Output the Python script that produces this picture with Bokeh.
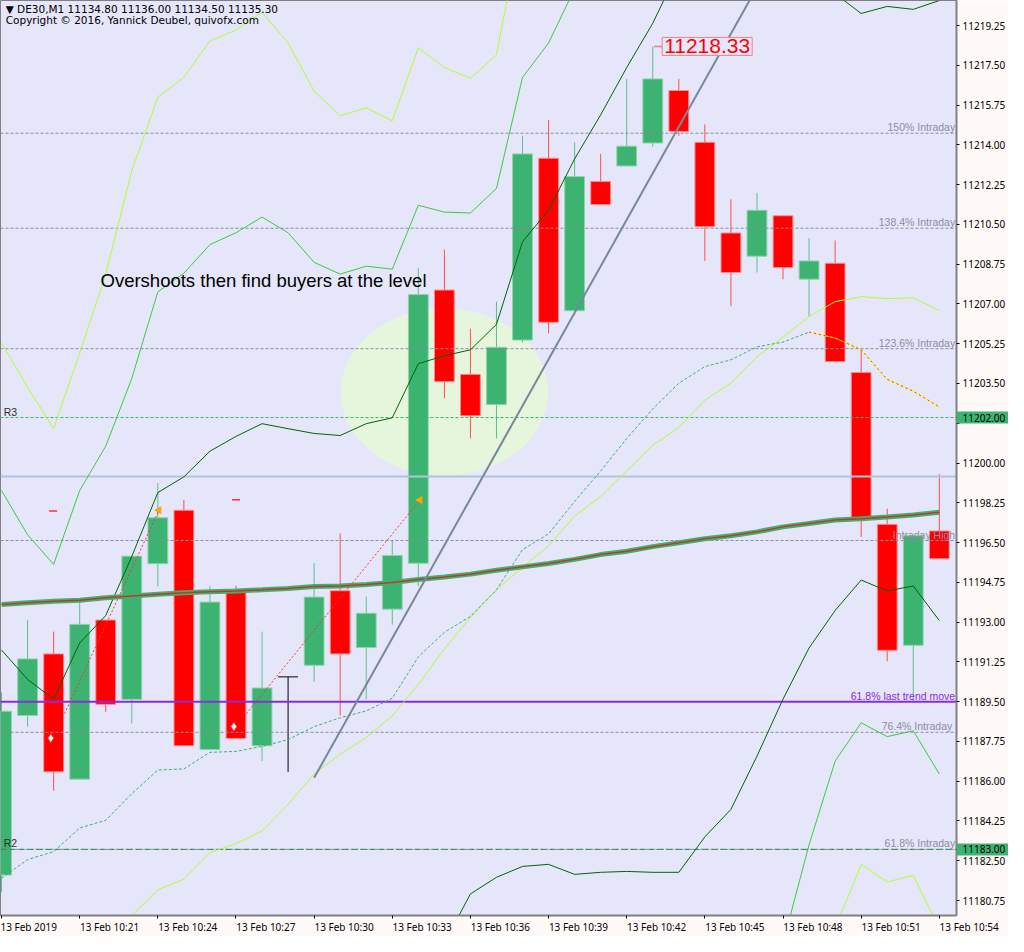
from bokeh.plotting import figure
from bokeh.models import Range1d, LinearAxis, FixedTicker, PrintfTickFormatter, Label, ColumnDataSource
from bokeh.embed import file_html
from bokeh.resources import INLINE
from bokeh.core.properties import value

# ---------------- data ----------------
minutes = ["10:18", "10:19", "10:20", "10:21", "10:22", "10:23", "10:24", "10:25", "10:26", "10:27",
           "10:28", "10:29", "10:30", "10:31", "10:32", "10:33", "10:34", "10:35", "10:36", "10:37",
           "10:38", "10:39", "10:40", "10:41", "10:42", "10:43", "10:44", "10:45", "10:46", "10:47",
           "10:48", "10:49", "10:50", "10:51", "10:52", "10:53", "10:54"]
opens = [11181.87, 11188.89, 11191.60, 11186.09, 11193.09, 11189.60, 11195.57, 11197.92, 11187.39, 11194.34,
         11187.56, 11190.59, 11191.10, 11194.38, 11191.88, 11193.57, 11195.59, 11207.61, 11203.90, 11202.57,
         11205.41, 11213.41, 11206.70, 11212.39, 11213.07, 11214.08, 11216.39, 11214.11, 11210.12, 11209.10,
         11210.88, 11208.09, 11208.79, 11203.98, 11197.30, 11191.98, 11197.01]
highs = [11189.90, 11193.09, 11192.58, 11193.88, 11193.09, 11195.90, 11199.12, 11198.38, 11194.60, 11194.60,
         11192.58, 11190.59, 11195.59, 11196.90, 11194.12, 11196.59, 11208.57, 11209.39, 11205.91, 11207.10,
         11214.40, 11215.09, 11214.11, 11213.60, 11216.90, 11218.33, 11216.90, 11214.90, 11211.60, 11211.89,
         11210.88, 11209.90, 11209.79, 11204.99, 11197.99, 11196.80, 11199.51]
lows = [11181.11, 11188.40, 11185.58, 11186.09, 11189.05, 11188.54, 11194.57, 11187.56, 11187.39, 11187.88,
        11186.88, 11186.41, 11190.38, 11188.89, 11189.60, 11192.88, 11194.58, 11202.85, 11201.08, 11201.08,
        11205.30, 11205.71, 11206.50, 11211.37, 11213.07, 11213.91, 11214.40, 11208.89, 11206.90, 11208.38,
        11208.09, 11206.44, 11204.46, 11196.75, 11191.28, 11189.48, 11195.79]
closes = [11189.08, 11191.38, 11186.41, 11192.90, 11189.38, 11195.90, 11197.59, 11187.56, 11193.88, 11187.88,
          11190.10, 11190.59, 11194.10, 11191.60, 11193.39, 11195.93, 11207.41, 11203.58, 11202.08, 11205.09,
          11213.60, 11206.19, 11212.60, 11211.37, 11213.94, 11216.90, 11214.59, 11210.40, 11208.38, 11211.12,
          11208.60, 11208.89, 11204.46, 11197.53, 11191.76, 11196.80, 11195.79]

time_tick_idx = [0, 3, 6, 9, 12, 15, 18, 21, 24, 27, 30, 33, 36]
time_tick_labels = ["13 Feb 2019", "13 Feb 10:21", "13 Feb 10:24", "13 Feb 10:27", "13 Feb 10:30",
                    "13 Feb 10:33", "13 Feb 10:36", "13 Feb 10:39", "13 Feb 10:42", "13 Feb 10:45",
                    "13 Feb 10:48", "13 Feb 10:51", "13 Feb 10:54"]
price_ticks = [11219.25, 11217.50, 11215.75, 11214.00, 11212.25, 11210.50, 11208.75, 11207.00, 11205.25,
               11203.50, 11201.75, 11200.00, 11198.25, 11196.50, 11194.75, 11193.00, 11191.25, 11189.50,
               11187.75, 11186.00, 11184.25, 11182.50, 11180.75]

# slow moving average (thick line)
ma_slow = [11193.77, 11193.85, 11193.92, 11193.96, 11194.07, 11194.15, 11194.22, 11194.29, 11194.33, 11194.37,
           11194.42, 11194.48, 11194.57, 11194.59, 11194.65, 11194.74, 11194.87, 11194.98, 11195.11, 11195.28,
           11195.43, 11195.58, 11195.76, 11195.97, 11196.12, 11196.32, 11196.49, 11196.67, 11196.80, 11196.97,
           11197.19, 11197.34, 11197.49, 11197.55, 11197.62, 11197.71, 11197.83]

# outer upper band (yellow-green)
band_a_idx = list(range(0, 21))
band_a = [11205.28, 11203.33, 11201.51, 11204.85, 11208.31, 11212.86, 11216.10, 11216.97, 11218.57, 11219.05,
          11219.83, 11218.48, 11216.36, 11215.28, 11215.63, 11215.06, 11218.27, 11217.40, 11216.93, 11217.96,
          11223.90]
# middle upper band (lime green)
band_b_idx = list(range(0, 23))
band_b = [11198.79, 11196.84, 11195.54, 11198.79, 11200.74, 11203.72, 11207.53, 11208.35, 11209.61, 11210.13,
          11210.82, 11210.13, 11208.83, 11208.31, 11208.66, 11208.53, 11211.34, 11211.04, 11211.00, 11212.08,
          11216.97, 11218.48, 11220.87]
# inner upper band (dark green)
band_c_idx = list(range(0, 37))
band_c = [11191.77, 11190.48, 11189.61, 11192.08, 11193.29, 11195.89, 11198.70, 11199.39, 11200.52, 11201.17,
          11201.73, 11201.51, 11201.30, 11201.21, 11201.73, 11201.99, 11204.37, 11204.72, 11204.98, 11206.10,
          11209.74, 11211.12, 11213.38, 11215.32, 11217.40, 11219.35, 11221.73, 11222.60, 11223.00, 11222.80,
          11222.40, 11221.73, 11220.65, 11219.78, 11220.09, 11219.96, 11220.35]
# inner lower band (dark green)
band_d_idx = list(range(17, 37))
band_d = [11178.87, 11181.04, 11181.77, 11182.25, 11182.34, 11181.90, 11181.99, 11182.03, 11181.99, 11181.99,
          11183.55, 11184.76, 11187.10, 11189.61, 11191.86, 11193.51, 11194.85, 11194.37, 11194.59, 11193.07]
# middle lower band (lime green)
band_e_idx = list(range(30, 37))
band_e = [11178.87, 11183.20, 11186.88, 11188.57, 11187.96, 11188.22, 11186.32]
# rising yellow-green average
band_f_idx = list(range(4, 37))
band_f = [11178.87, 11180.09, 11181.21, 11181.69, 11182.86, 11183.25, 11183.81, 11184.98, 11186.32, 11187.19,
          11187.92, 11188.87, 11190.26, 11191.82, 11193.20, 11194.42, 11195.41, 11196.36, 11197.66, 11198.53,
          11199.65, 11200.78, 11201.56, 11202.77, 11203.51, 11204.67, 11205.54, 11206.45, 11207.10, 11207.32,
          11207.23, 11207.27, 11206.71]
# outer lower band (yellow-green)
band_a2_idx = list(range(32, 37))
band_a2 = [11179.52, 11182.34, 11181.56, 11181.86, 11179.52]
# dashed average: rising part (green) and falling part (yellow/red)
dash_ma_up_idx = list(range(0, 32))
dash_ma_up = [11181.73, 11182.55, 11182.90, 11183.94, 11184.28, 11185.45, 11186.49, 11186.54, 11187.27, 11187.31,
              11187.53, 11187.83, 11188.40, 11188.79, 11189.09, 11189.65, 11191.47, 11192.55, 11193.25, 11194.42,
              11196.19, 11196.88, 11198.31, 11199.65, 11201.08, 11202.38, 11203.51, 11204.24, 11204.54, 11205.11,
              11205.32, 11205.76]
dash_ma_dn_idx = list(range(31, 37))
dash_ma_dn = [11205.76, 11205.50, 11204.98, 11203.68, 11203.16, 11202.47]

# horizontal levels
fib_levels = [11214.51, 11210.33, 11205.03, 11196.59, 11188.15, 11183.00]
fib_labels = ["150% Intraday", "138.4% Intraday", "123.6% Intraday", "Intraday High", "76.4%  Intraday", "61.8% Intraday"]
pivot_levels = [11202.00, 11183.00]
pivot_labels = ["R3", "R2"]
trend_fib_level = 11189.50
trend_fib_label = "61.8% last trend move"
session_level = 11199.41

# trend line (two anchor points, extended as a ray)
trend_idx = [12.0, 23.49]
trend_price = [11186.15, 11209.66]

# signal arrows
sig_start_idx = [2.42, 9.40]
sig_start_price = [11188.97, 11188.97]
sig_end_idx = [6.04, 16.06]
sig_end_price = [11197.92, 11198.37]
sig_mark_idx = [1.89, 8.92]
sig_mark_price = [11187.89, 11188.40]
sig_dash_idx = [1.98, 9.00]
sig_dash_price = [11197.89, 11198.38]

# highlighted zone
zone_center_idx = 17.0
zone_center_price = 11203.12
zone_width = 7.96
zone_height = 7.36

high_mark_idx = 25
high_mark_price = 11218.33

# ---------------- figure ----------------
X0, X1 = -0.04, 36.66
Y0, Y1 = 11180.09, 11220.35
FONT = "Liberation Sans"
AXFONT = "Noto Sans"

p = figure(width=1008, height=936, output_backend="svg", toolbar_location=None,
           x_range=Range1d(X0, X1), y_range=Range1d(Y0, Y1),
           x_axis_location=None, y_axis_location=None, min_border=0)
p.background_fill_color = "#e6e6fa"
p.border_fill_color = "#fffaf8"
p.outline_line_color = "#808080"
p.outline_line_width = 1
p.grid.visible = False

# price scale: the pivot prices get their own tick labels; their green price tags are drawn as
# long, thick minor tick marks of the same axis, so they sit in the scale area itself
TAG_LEN = 52
hidden_under_tag = [t for t in price_ticks if abs(t - pivot_levels[0]) < 0.5]
axis_overrides = {lv: f"{lv:.2f}" for lv in pivot_levels}
for t in hidden_under_tag:
    axis_overrides[t] = ""
yax = LinearAxis(ticker=FixedTicker(ticks=price_ticks + pivot_levels, minor_ticks=pivot_levels),
                 formatter=PrintfTickFormatter(format="%.2f"), major_label_overrides=axis_overrides)
yax.axis_line_color = "#808080"
yax.axis_line_width = 2
yax.major_tick_line_color = "#000000"
yax.major_tick_in = 0
yax.major_tick_out = 3
yax.minor_tick_in = 0
yax.minor_tick_out = TAG_LEN
yax.minor_tick_line_width = 12
yax.minor_tick_line_color = "#3cb371"
yax.major_label_standoff = 6 - TAG_LEN   # labels 6px from the axis line, on top of the tags
yax.major_label_text_font = AXFONT
yax.major_label_text_font_size = "10px"
yax.major_label_text_color = "#000000"
p.add_layout(yax, "right")

# MetaTrader draws a date label starting at its tick: pad each label on the left with
# non-breaking spaces about as wide as the label, so the centred label box begins at the tick.
CHAR_W = {"F": 0.545, "e": 0.561, "b": 0.613, ":": 0.258, " ": 0.26}
NBSP_W = 0.26


def left_pad(t):
    w = sum(CHAR_W.get(ch, 0.572) for ch in t)
    return "\u00a0" * int(round(w / NBSP_W)) + t


date_overrides = {}
for n, (k, t) in enumerate(zip(time_tick_idx, time_tick_labels)):
    date_overrides[k] = t if n == 0 else left_pad(t)

xax = LinearAxis(ticker=FixedTicker(ticks=time_tick_idx), major_label_overrides=date_overrides)
xax.axis_line_color = "#808080"
xax.axis_line_width = 2
xax.major_tick_line_color = "#000000"
xax.major_tick_in = 0
xax.major_tick_out = 3
xax.minor_tick_line_color = None
xax.major_label_standoff = 1
xax.major_label_text_font = AXFONT
xax.major_label_text_font_size = "10px"
xax.major_label_text_color = "#000000"
p.add_layout(xax, "below")

has_padding = "padding" in Label.properties()

# highlighted zone
p.ellipse(x=[zone_center_idx], y=[zone_center_price], width=[zone_width], height=[zone_height],
          fill_color="#e6f6dc", line_color=None)

# candles
idx = list(range(len(minutes)))
up = [k for k in idx if closes[k] > opens[k]]
dn = [k for k in idx if closes[k] < opens[k]]
dj = [k for k in idx if closes[k] == opens[k]]
BW = 0.76


def src(keys):
    return ColumnDataSource(dict(x=keys,
                                 o=[opens[k] for k in keys], h=[highs[k] for k in keys],
                                 l=[lows[k] for k in keys], c=[closes[k] for k in keys],
                                 top=[max(opens[k], closes[k]) for k in keys],
                                 bot=[min(opens[k], closes[k]) for k in keys]))


s_up, s_dn, s_dj = src(up), src(dn), src(dj)
p.segment(x0="x", x1="x", y0="l", y1="h", source=s_up, line_color="#5cbf8a", line_width=1)
p.segment(x0="x", x1="x", y0="l", y1="h", source=s_dn, line_color="#ff4d4d", line_width=1)
p.segment(x0="x", x1="x", y0="l", y1="h", source=s_dj, line_color="#000000", line_width=1)
p.vbar(x="x", top="top", bottom="bot", width=BW, source=s_up, fill_color="#3cb371", line_color="#8fd3aa", line_width=1)
p.vbar(x="x", top="top", bottom="bot", width=BW, source=s_dn, fill_color="#ff0000", line_color="#ff8c8c", line_width=1)
dj_src = ColumnDataSource(dict(x0=[k - BW / 2 for k in dj], x1=[k + BW / 2 for k in dj],
                               y=[opens[k] for k in dj]))
p.segment(x0="x0", x1="x1", y0="y", y1="y", source=dj_src, line_color="#000000", line_width=1)

# horizontal levels
for lv in fib_levels:
    p.line([X0, X1], [lv, lv], line_color="#8c8ca0", line_width=1, line_dash="3 2")
p.line([X0, X1], [pivot_levels[0]] * 2, line_color="#3cb371", line_width=1, line_dash="3 2")
p.line([X0, X1], [pivot_levels[1]] * 2, line_color="#2e8b57", line_width=1, line_dash="6 3")
p.line([X0, X1], [session_level] * 2, line_color="#b0c4de", line_width=2)
p.line([X0, X1], [trend_fib_level] * 2, line_color="#8a2be2", line_width=2)

# bands
p.line(band_a_idx, band_a, line_color="#adff2f", line_width=1)
p.line(band_a2_idx, band_a2, line_color="#adff2f", line_width=1)
p.line(band_f_idx, band_f, line_color="#adff2f", line_width=1)
p.line(band_b_idx, band_b, line_color="#3fc83f", line_width=1)
p.line(band_e_idx, band_e, line_color="#3fc83f", line_width=1)
p.line(band_c_idx, band_c, line_color="#006400", line_width=1)
p.line(band_d_idx, band_d, line_color="#006400", line_width=1)
p.line(dash_ma_up_idx, dash_ma_up, line_color="#3cb371", line_width=1, line_dash="3 2")
p.line(dash_ma_dn_idx, dash_ma_dn, line_color="#ffff00", line_width=1)
p.line(dash_ma_dn_idx, dash_ma_dn, line_color="#ff3300", line_width=1, line_dash="2 3")

# slow moving average
p.line(idx, ma_slow, line_color="#3cb371", line_width=5)
p.line(idx, ma_slow, line_color="#c0392b", line_width=1.5)

# trend line ray
slope = (trend_price[1] - trend_price[0]) / (trend_idx[1] - trend_idx[0])
ray_end_idx = trend_idx[0] + (Y1 + 2 - trend_price[0]) / slope
p.line([trend_idx[0], ray_end_idx], [trend_price[0], Y1 + 2], line_color="#778899", line_width=2)

# signal arrows
for a, b, c, d in zip(sig_start_idx, sig_start_price, sig_end_idx, sig_end_price):
    p.line([a, c], [b, d], line_color="#ff3030", line_width=1, line_dash="2 2")
p.scatter(sig_mark_idx, sig_mark_price, marker="diamond", size=9, fill_color="#ffffff", line_color="#ff3030")
p.scatter(sig_end_idx, sig_end_price, marker="triangle", angle=1.5708, size=7, fill_color="#ffa500", line_color="#ffa500")
p.scatter(sig_dash_idx, sig_dash_price, marker="dash", size=8, line_color="#ff3030", line_width=1.5)

# level labels
p.text(x=[X1 - 0.05] * len(fib_levels), y=fib_levels, text=fib_labels, text_align="right", text_baseline="bottom",
       text_font=value(FONT), text_font_size="10.5px", text_color="#8c8ca0")
p.text(x=[X1 - 0.05], y=[trend_fib_level], text=[trend_fib_label], text_align="right", text_baseline="bottom",
       text_font=value(FONT), text_font_size="10.5px", text_color="#8a2be2")
p.text(x=[X0 + 0.12] * 2, y=pivot_levels, text=pivot_labels, text_align="left", text_baseline="bottom",
       text_font=value(FONT), text_font_size="10.5px", text_color="#303030")

# header
p.text(x=[X0 + 0.2], y=[Y1 - 0.36], text=["\u25bc DE30,M1  11134.80 11136.00 11134.50 11135.30"],
       text_align="left", text_baseline="middle", text_font=value("DejaVu Sans"), text_font_size="10.5px",
       text_color="#000000")
p.text(x=[X0 + 0.2], y=[Y1 - 0.86], text=["Copyright \u00a9 2016, Yannick Deubel, quivofx.com"],
       text_align="left", text_baseline="middle", text_font=value("DejaVu Sans"), text_font_size="10.5px",
       text_color="#000000")

# annotation
p.text(x=[3.80], y=[11208.02], text=["Overshoots then find buyers at the level"], text_align="left",
       text_baseline="alphabetic", text_font=value(FONT), text_font_size="18.5px", text_color="#000000")

# high marker
p.line([high_mark_idx + 0.05, high_mark_idx + 0.36], [high_mark_price, high_mark_price],
       line_color="#f08080", line_width=1.5)
hl = Label(x=high_mark_idx + 0.36, y=high_mark_price, text=f"{high_mark_price:.2f}", text_align="left",
           text_baseline="middle", text_font=FONT, text_font_size="21px", text_color="#ff0000",
           border_line_color="#f08080", border_line_width=1, background_fill_color="#e6e6fa")
if has_padding:
    hl.padding = 2
p.add_layout(hl)

open("out.html", "w").write(file_html(p, INLINE))
